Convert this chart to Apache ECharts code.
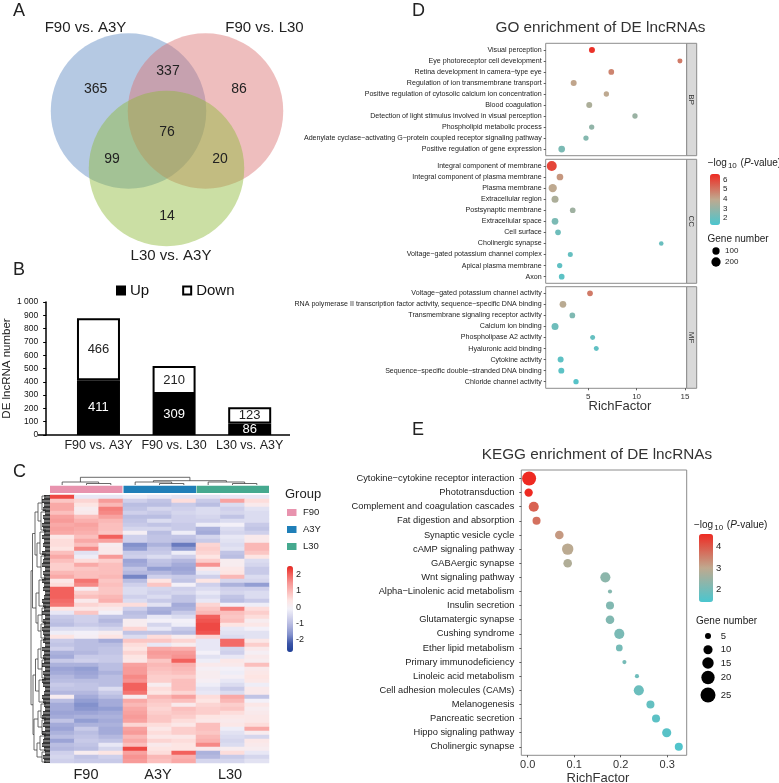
<!DOCTYPE html>
<html>
<head>
<meta charset="utf-8">
<style>
    html, body { margin: 0; padding: 0; background: #fff; }
    #main { width: 779px; height: 783px; }
</style>
<script src="https://cdn.jsdelivr.net/npm/echarts@6/dist/echarts.min.js"></script>
</head>
<body>
<div id="main"></div>
<script>
var FONT = '"Liberation Sans", Arial, sans-serif';

// A: venn
var vennCounts = ['365', '337', '86', '76', '99', '20', '14'];
var vennNames = ['F90 vs. A3Y', 'F90 vs. L30', 'L30 vs. A3Y'];

// B: stacked bars
var barCategories = ['F90 vs. A3Y', 'F90 vs. L30', 'L30 vs. A3Y'];
var barUp = [411, 309, 86];
var barDown = [466, 210, 123];

// C: heatmap, one row per list, columns F90 x3, A3Y x3, L30 x3
var heatGroups = ['F90', 'A3Y', 'L30'];
var heatTicks = [2, 1, 0, -1, -2];
var heatRows = [
    [2.2, -.3, -.3, -.2, -.3, -.4, -.4, -.3, -.3],
    [.8, .6, 1.4, -.7, -.9, .5, -.8, 1.3, .5],
    [1.2, .4, 1.0, -1, -1, -.8, -1, -.5, .2],
    [1.2, .1, 1.7, -.9, -.6, -.7, -.5, -.7, -.4],
    [.9, .2, 1.6, -.7, -.8, -.6, -.5, -.6, -.5],
    [1.3, .9, 1.3, -1, -1, -.7, -.6, -.9, -.5],
    [1.4, 1.1, 1.0, -.9, -.5, -.7, -.7, -.5, -.5],
    [1.2, 1.3, .9, -.8, -.9, -.8, -.2, -.1, -.8],
    [1.3, 1.2, .9, -.6, -.6, -.8, -1.2, -.5, -.9],
    [1.2, 1.1, .8, 0, -1.0, -.2, -1.3, -.6, -.7],
    [.3, .9, 2.0, -.7, -.9, -.9, -.6, -.3, .2],
    [.5, 1.2, 1.3, -.7, -.9, -1.0, -.8, -.4, .2],
    [.5, .9, .1, -1.7, -1.2, -1.9, .6, -.5, 1],
    [.4, 1.6, .2, -1.5, -.9, -1.5, .7, -.4, 1.0],
    [.9, -.4, .2, -.8, -.8, -.2, .6, -.9, .8],
    [1.2, -.2, 1.4, -.7, -.5, -.7, .4, -1, .4],
    [.9, .5, .7, -1.4, -.9, -1.1, .7, .1, -.5],
    [.7, 1.2, .9, -1.3, -1.0, -1.3, 1.5, .1, -.6],
    [.7, .8, .9, -.9, -1.5, -1.4, .2, .3, -.8],
    [1.0, .9, .9, -1.1, -1.1, -1.3, -.3, .4, -.8],
    [1.2, .9, 1.0, -1.8, -.7, -.8, -.7, 1.0, -.5],
    [.3, 1.8, .8, -1, .4, -.9, .4, -.6, -.6],
    [.5, 1.6, .9, -.7, .8, -.1, -.7, -1.2, -1.5],
    [2.0, .1, .8, -.5, -.6, -.7, -.5, -.7, -.7],
    [2.0, .7, .8, -.5, -.7, -.6, -.3, -.6, -.5],
    [2.0, .9, 1.0, -.7, -.5, -.9, -.5, -.9, -.5],
    [1.9, .2, 1.1, -.5, -.8, -.9, -.3, -1.0, -.8],
    [1.8, .6, .5, .5, -.4, -1.3, .6, -.1, -.2],
    [.4, .3, .2, -.7, -1.2, -1.2, .8, 1.7, .5],
    [-.3, .8, -.1, -1, -1.3, -.8, 1.0, .9, .7],
    [-.8, -.7, -.9, -.9, -.3, -.5, 2.0, .8, .5],
    [-.9, -.7, -1.1, .1, -.1, -.1, 2.1, .9, .1],
    [-1, -.8, -.9, .1, -.6, -.2, 2.2, .4, .3],
    [-.5, -.5, -.6, .6, -.3, -.8, 2.2, -.3, -.1],
    [-.2, -.1, .1, -.9, -.9, -1, 2.1, -.4, -.4],
    [.4, 0, .4, -.5, .5, .1, .6, -.5, -.4],
    [-.8, -1, -1.3, .8, .8, .6, -.3, 1.9, .3],
    [-.9, -1, -1, .5, -.3, .1, -.3, 1.9, .7],
    [-.7, -1, -.9, .4, 1.2, 1.1, -.3, -.6, .2],
    [-1.2, -1.1, -.9, .6, 1.4, 1.4, -.1, -.7, 0],
    [-1.3, -.8, -.8, .4, 1.3, 1.5, -.4, -.3, .2],
    [-.8, -.7, -.8, .3, .8, 2.0, -.2, .3, .1],
    [-1.2, -1.2, -1, 1.3, 1.0, 1.1, .2, .2, .9],
    [-1.4, -1.5, -1, 1.4, .9, 1.0, 0, -.1, .2],
    [-1.3, -1.4, -1.2, 1.4, .8, .9, .1, -.2, .3],
    [-1.1, -1.3, -1, 1.6, .7, .7, .1, 0, .4],
    [-1, -1, -1, 1.5, .7, .9, 0, -.3, .3],
    [-.8, -.9, -1, 2.0, .1, .9, -.2, -.5, -.2],
    [-.9, -.9, -.5, 2.0, .5, .9, -.4, -.8, .2],
    [-1.1, -1.1, -.8, 1.8, .4, .6, -.3, -.5, .2],
    [.1, -1.3, -1, .1, 1.0, 1.3, .5, 1.2, -.9],
    [-1, -1.5, -1.3, 1.2, .8, .9, .4, 1.0, -.1],
    [-1.3, -1.7, -1.3, 1, .7, .2, .6, .7, .3],
    [-1.3, -1.6, -1.5, 1.2, .6, .9, .7, .8, .1],
    [-1.4, -1.4, -1.3, 1.3, .7, .8, .7, .5, .2],
    [-1.3, -1.2, -1.2, 1.4, .8, .7, .4, .3, .3],
    [-.9, -1.5, -1.3, 1.3, .8, .5, .3, .2, .3],
    [-1.3, -1.2, -1.2, .6, .5, .3, .9, .3, .5],
    [-1.4, -.8, -1.3, 1.3, .3, .7, .9, -.2, 1.2],
    [-1.2, -1, -1.3, 1.4, .5, .7, .8, -.4, .1],
    [-1.0, -.9, -1.1, 1.0, .3, .3, 1.0, -.5, -.6],
    [-1.4, -.8, -.9, 1.2, .6, .5, 1.1, -.6, .3],
    [-1, -.9, -.3, .9, .2, .4, 1.6, -.5, .2],
    [-1.1, -1, -.6, 2.2, .4, .4, .2, .1, .1],
    [-.7, .1, .4, 1.3, .5, 2.0, -1.2, .5, -.3],
    [-.6, -.9, -.7, 1.5, 1.0, 1.1, -1.1, -.8, -.6],
    [-.7, -.8, -.8, 1.4, .9, 1.2, -.6, -.6, -.4]
];
// dendrograms: [merge height, child, child], a column leaf is its index, a row leaf block is [height, first row, last row]
var colTree = [7.7, [3, 0, [1.5, 1, 2]], [4.3, [3, 3, [1.5, 4, 5]], [3, 6, [1.5, 7, 8]]]];
var rowTree = [19,
    [17.5,
        [15, [12, [8, 0, 4], [9, 4, 9]], [13, [10, 9, 15], [9, 15, 21]]],
        [14, [11, 21, 28], [12, [8, 28, 32], [9, 32, 36]]]],
    [17,
        [14.5, [12, [9, 36, 41], [8, 41, 46]], [11, 46, 52]],
        [16, [12, [9, 52, 56], [8, 56, 60]], [13, [10, 60, 64], [8, 64, 67]]]]
];
var rowLeafHeight = [6, 8, 6, 7, 5, 7, 6, 8, 7, 6, 8, 6, 7, 5, 8, 6, 7, 8, 5, 7, 6, 8, 6, 7, 5, 6, 8, 7, 6, 8, 5, 7, 6,
    8, 7, 6, 7, 5, 8, 6, 7, 6, 8, 5, 7, 6, 8, 7, 5, 6, 8, 7, 6, 5, 7, 8, 6, 7, 5, 8, 6, 7, 8, 6, 5, 7, 6];

// D: GO dots
var goBpTerms = ['Visual perception', 'Eye photoreceptor cell development', 'Retina development in camera\u2212type eye',
    'Regulation of ion transmembrane transport', 'Positive regulation of cytosolic calcium ion concentration',
    'Blood coagulation', 'Detection of light stimulus involved in visual perception', 'Phospholipid metabolic process',
    'Adenylate cyclase\u2212activating G\u2212protein coupled receptor signaling pathway', 'Positive regulation of gene expression'];
var goBpRich = [5.38, 14.48, 7.38, 3.49, 6.87, 5.1, 9.83, 5.35, 4.76, 2.25];
var goBpGenes = [48, 15, 37, 48, 25, 48, 25, 25, 25, 75];
var goBpLogP = [6.4, 4.9, 4.7, 4.0, 3.9, 3.5, 3.1, 2.9, 2.6, 2.4];
var goCcTerms = ['Integral component of membrane', 'Integral component of plasma membrane', 'Plasma membrane',
    'Extracellular region', 'Postsynaptic membrane', 'Extracellular space', 'Cell surface', 'Cholinergic synapse',
    'Voltage\u2212gated potassium channel complex', 'Apical plasma membrane', 'Axon'];
var goCcRich = [1.22, 2.07, 1.32, 1.56, 3.39, 1.56, 1.87, 12.55, 3.14, 2.04, 2.25];
var goCcGenes = [242, 75, 149, 88, 37, 75, 37, 3, 15, 25, 37];
var goCcLogP = [6.0, 4.3, 3.9, 3.5, 3.2, 2.4, 2.1, 2.0, 1.9, 1.8, 1.7];
var goMfTerms = ['Voltage\u2212gated potassium channel activity',
    'RNA polymerase II transcription factor activity, sequence\u2212specific DNA binding',
    'Transmembrane signaling receptor activity', 'Calcium ion binding', 'Phospholipase A2 activity',
    'Hyaluronic acid binding', 'Cytokine activity', 'Sequence\u2212specific double\u2212stranded DNA binding', 'Chloride channel activity'];
var goMfRich = [5.18, 2.38, 3.35, 1.56, 5.45, 5.83, 2.14, 2.21, 3.73];
var goMfGenes = [37, 75, 37, 88, 15, 15, 48, 48, 25];
var goMfLogP = [4.9, 3.8, 2.5, 2.1, 1.9, 1.8, 1.75, 1.7, 1.6];
var goRichTicks = [5, 10, 15];
var goLogTicks = [6, 5, 4, 3, 2];
var goGeneLegend = [100, 200];

// E: KEGG dots
var keggTerms = ['Cytokine\u2212cytokine receptor interaction', 'Phototransduction', 'Complement and coagulation cascades',
    'Fat digestion and absorption', 'Synaptic vesicle cycle', 'cAMP signaling pathway', 'GABAergic synapse',
    'Wnt signaling pathway', 'Alpha\u2212Linolenic acid metabolism', 'Insulin secretion', 'Glutamatergic synapse',
    'Cushing syndrome', 'Ether lipid metabolism', 'Primary immunodeficiency', 'Linoleic acid metabolism',
    'Cell adhesion molecules (CAMs)', 'Melanogenesis', 'Pancreatic secretion', 'Hippo signaling pathway', 'Cholinergic synapse'];
var keggRich = [.003, .002, .013, .019, .068, .086, .086, .167, .177, .177, .177, .197, .197, .208, .235, .239, .264, .276, .299, .325];
var keggGenes = [22, 8.5, 12, 8, 9, 15, 9, 12, 3, 8, 9, 12, 6, 3, 3, 12, 8, 8, 10, 8];
var keggLogP = [4.7, 4.6, 3.9, 3.7, 3.2, 2.95, 2.8, 2.3, 2.2, 2.15, 2.15, 2.05, 2.0, 2.0, 1.9, 1.85, 1.75, 1.65, 1.6, 1.5];
var keggRichTicks = [0, .1, .2, .3];
var keggLogTicks = [4, 3, 2];
var keggGeneLegend = [5, 10, 15, 20, 25];

var DOT_COLORS = ['#4ac6cf', '#bfa98f', '#ee2a22'];
var FRAME = '#8c8c8c';

function goSize(v) { return Math.sqrt(20 + .33 * v); }
function keggSize(v) { return Math.sqrt(Math.max(9, -11 + 9.45 * v)); }

function txt(x, y, text, size, align, color) {
    return {
        type: 'text', x: x, y: y, z: 100, silent: true,
        style: { text: text, fontSize: size, fontFamily: FONT, fill: color || '#222', align: align || 'left', verticalAlign: 'middle' }
    };
}

function rowsToDots(rich, genes, logp) {
    return rich.map(function (r, i) { return [r, i, genes[i], logp[i]]; });
}

function indexes(arr) {
    return arr.map(function (d, i) { return i; });
}

function termAxis(gridIndex, terms, fontSize, margin) {
    return {
        gridIndex: gridIndex, type: 'value', inverse: true, min: -0.6, max: terms.length - 0.4,
        splitLine: { show: false }, axisLine: { show: false, onZero: false },
        axisTick: { show: true, length: 2, customValues: indexes(terms), lineStyle: { color: '#333', width: .8 } },
        axisLabel: {
            customValues: indexes(terms), fontSize: fontSize, color: '#222', margin: margin, fontFamily: FONT,
            formatter: function (v) { return terms[v]; }
        }
    };
}

function richAxis(gridIndex, min, max, ticks, fontSize, digits) {
    var showIt = ticks.length > 0;
    return {
        gridIndex: gridIndex, type: 'value', min: min, max: max,
        splitLine: { show: false }, axisLine: { show: false, onZero: false },
        axisTick: { show: showIt, length: 2, customValues: ticks, lineStyle: { color: '#333', width: .8 } },
        axisLabel: {
            show: showIt, customValues: ticks, fontSize: fontSize, color: '#333', margin: 4, fontFamily: FONT,
            formatter: function (v) { return v.toFixed(digits); }
        }
    };
}

function dotSeries(index, dots, sizeFn) {
    return {
        type: 'scatter', xAxisIndex: index, yAxisIndex: index, data: dots, symbolSize: function (v) { return sizeFn(v[2]); },
        itemStyle: { opacity: 1 }, silent: true
    };
}

// dendrogram line segments in page pixels
var segs = [];
var leafSegs = [];
var HEAT_LEFT = 50, HEAT_TOP = 495, HEAT_W = 219, HEAT_H = 268;
var ROW_H = HEAT_H / heatRows.length, COL_W = HEAT_W / 9;

function walkCol(node) {
    if (typeof node === 'number') {
        return { x: HEAT_LEFT + COL_W * (node + .5), h: 0 };
    }
    var a = walkCol(node[1]), b = walkCol(node[2]);
    var top = 485 - node[0];
    segs.push([a.x, top, b.x, top], [a.x, top, a.x, 485 - a.h], [b.x, top, b.x, 485 - b.h]);
    return { x: (a.x + b.x) / 2, h: node[0] };
}

function walkRow(node) {
    var x = HEAT_LEFT - node[0];
    if (typeof node[1] === 'number') {
        var y0 = HEAT_TOP + node[1] * ROW_H + 1, y1 = HEAT_TOP + node[2] * ROW_H - 1;
        segs.push([x, y0, x, y1], [x, y0, HEAT_LEFT - 4, y0], [x, y1, HEAT_LEFT - 4, y1]);
        return { y: (y0 + y1) / 2, d: node[0] };
    }
    var a = walkRow(node[1]), b = walkRow(node[2]);
    segs.push([x, a.y, x, b.y], [x, a.y, HEAT_LEFT - a.d, a.y], [x, b.y, HEAT_LEFT - b.d, b.y]);
    return { y: (a.y + b.y) / 2, d: node[0] };
}

walkCol(colTree);
walkRow(rowTree);
rowLeafHeight.forEach(function (h, i) {
    for (var j = 0; j < 3; j++) {
        var y = HEAT_TOP + (i + (j + .5) / 3) * ROW_H;
        leafSegs.push([HEAT_LEFT - h, y, HEAT_LEFT, y]);
    }
});

function segRenderer(stroke, width) {
    return function (params, api) {
        var a = api.coord([api.value(0), api.value(1)]);
        var b = api.coord([api.value(2), api.value(3)]);
        return {
            type: 'line', shape: { x1: a[0], y1: a[1], x2: b[0], y2: b[1] },
            style: { stroke: stroke, lineWidth: width }
        };
    };
}

var heatData = [];
heatRows.forEach(function (row, r) {
    row.forEach(function (v, c) { heatData.push([c, r, v]); });
});

// static text and boxes
var elements = [
    txt(13, 11, 'A', 18), txt(13, 270, 'B', 18), txt(13, 472, 'C', 18), txt(412, 11, 'D', 18), txt(412, 430, 'E', 18),
    txt(85.5, 28, vennNames[0], 15, 'center'), txt(264.5, 28, vennNames[1], 15, 'center'), txt(171, 256, vennNames[2], 15, 'center'),
    { type: 'line', z: 100, silent: true, shape: { x1: 38, y1: 435, x2: 290, y2: 435 }, style: { stroke: '#000', lineWidth: 1.5 } },
    txt(600.5, 28, 'GO enrichment of DE lncRNAs', 15.3, 'center', '#333'),
    txt(597, 455, 'KEGG enrichment of DE lncRNAs', 15.3, 'center', '#333'),
    txt(620, 406, 'RichFactor', 13, 'center', '#333'),
    txt(598, 778, 'RichFactor', 13, 'center', '#333'),
    txt(285, 494, 'Group', 13),
    txt(707.5, 239, 'Gene number', 10), txt(696, 621.5, 'Gene number', 10)
];

[[694, 525], [707.7, 163]].forEach(function (p) {
    elements.push({
        type: 'text', x: p[0], y: p[1], z: 100, silent: true,
        style: {
            text: '{a|\u2212log}{s|10}{a| (}{i|P}{a|-value)}', fontFamily: FONT, verticalAlign: 'middle', fill: '#222',
            rich: {
                a: { fontSize: 10, fontFamily: FONT, fill: '#222' },
                i: { fontSize: 10, fontFamily: FONT, fontStyle: 'italic', fill: '#222' },
                s: { fontSize: 8, fontFamily: FONT, fill: '#222', padding: [5, 1, 0, 1] }
            }
        }
    });
});

var vennAt = [[95.7, 89], [168, 71], [239, 89], [167, 132], [112, 159], [220, 159], [167, 216]];
vennCounts.forEach(function (c, i) {
    elements.push(txt(vennAt[i][0], vennAt[i][1], c, 14, 'center'));
});

// annotation bar above the heatmap and the group legend
var groupColors = ['#e893ae', '#1f7fb8', '#45a98f'];
heatGroups.forEach(function (g, i) {
    elements.push({
        type: 'rect', silent: true,
        shape: { x: HEAT_LEFT + 73 * i + (i ? .5 : 0), y: 485.7, width: 72.5, height: 7.3 },
        style: { fill: groupColors[i] }
    });
    elements.push({
        type: 'rect', silent: true, shape: { x: 287, y: 509 + 17 * i, width: 9.5, height: 7 }, style: { fill: groupColors[i] }
    });
    elements.push(txt(303, 512.5 + 17 * i, g, 9.5));
    elements.push(txt(HEAT_LEFT + 36 + 72 * i, 775, g, 14.5, 'center'));
});

heatTicks.forEach(function (t) {
    elements.push(txt(296, 607.3 - t * 16.3, String(t), 9));
});
goLogTicks.forEach(function (t) {
    elements.push(txt(723, 198.7 - (t - 4) * 9.7, String(t), 8));
});
keggLogTicks.forEach(function (t) {
    elements.push(txt(716, 568 - (t - 3) * 21.2, String(t), 9.5));
});

var stripBoxes = [[43.3, 155.7, 'BP'], [159.3, 283.3, 'CC'], [286.7, 388.3, 'MF']];
stripBoxes.forEach(function (b) {
    elements.push({
        type: 'rect', silent: true, shape: { x: 686.7, y: b[0], width: 10, height: b[1] - b[0] },
        style: { fill: '#d9d9d9', stroke: FRAME, lineWidth: 1 }
    });
    elements.push({
        type: 'text', x: 691.7, y: (b[0] + b[1]) / 2, z: 100, rotation: -Math.PI / 2, silent: true,
        style: { text: b[2], fontSize: 8, fontFamily: FONT, fill: '#333', align: 'center', verticalAlign: 'middle' }
    });
});

// size legends sit on the page-pixel grid
var goLegendAt = [251, 262];
var keggLegendAt = [636, 649.7, 663, 677.5, 695];
goGeneLegend.forEach(function (g, i) {
    elements.push(txt(725, goLegendAt[i], String(g), 8));
});
keggGeneLegend.forEach(function (g, i) {
    elements.push(txt(720.7, keggLegendAt[i], String(g), 9.5));
});

function plotGrid(left, top, width, height) {
    return { left: left, top: top, width: width, height: height, show: true, borderColor: FRAME, borderWidth: 1, backgroundColor: '#fff' };
}

function hiddenAxis(grid, min, max, inverse) {
    return { gridIndex: grid, type: 'value', min: min, max: max, inverse: !!inverse, show: false };
}

var option = {
    animation: false,
    textStyle: { fontFamily: FONT },
    legend: {
        data: ['Up', 'Down'], left: 116, top: 283, padding: 0, itemWidth: 8, itemHeight: 8, itemGap: 33, icon: 'rect',
        selectedMode: false, textStyle: { fontSize: 15, color: '#111', fontFamily: FONT }
    },
    grid: [
        { left: 0, top: 0, width: 779, height: 783 },
        { left: 56.5, top: 302, width: 231, height: 133 },
        { left: HEAT_LEFT, top: HEAT_TOP, width: HEAT_W, height: HEAT_H },
        plotGrid(545.7, 43.3, 141, 112.4),
        plotGrid(545.7, 159.3, 141, 124),
        plotGrid(545.7, 286.7, 141, 101.6),
        plotGrid(521.3, 470, 165.4, 285.3)
    ],
    xAxis: [
        hiddenAxis(0, 0, 779),
        {
            gridIndex: 1, type: 'category', data: barCategories,
            axisLine: { show: false }, axisTick: { show: false },
            axisLabel: { fontSize: 12.5, color: '#222', margin: 4, fontFamily: FONT, interval: 0 }
        },
        { gridIndex: 2, type: 'category', data: indexes(heatRows[0]), show: false },
        richAxis(3, .595, 15.18, [], 8, 0),
        richAxis(4, .595, 15.18, [], 8, 0),
        richAxis(5, .595, 15.18, goRichTicks, 8, 0),
        richAxis(6, -.0138, .342, keggRichTicks, 11, 1)
    ],
    yAxis: [
        hiddenAxis(0, 0, 783, true),
        {
            gridIndex: 1, type: 'value', min: 0, max: 1000, interval: 100, offset: 14.5,
            name: 'DE lncRNA number', nameLocation: 'middle', nameGap: 32,
            nameTextStyle: { fontSize: 11.5, color: '#222', fontFamily: FONT },
            splitLine: { show: false },
            axisLine: { show: true, lineStyle: { color: '#000', width: 1.5 } },
            axisTick: { show: true, length: 3, lineStyle: { color: '#000', width: 1 } },
            axisLabel: {
                fontSize: 8.5, color: '#111', margin: 8, fontFamily: FONT,
                formatter: function (v) { return v === 1000 ? '1 000' : String(v); }
            }
        },
        { gridIndex: 2, type: 'category', data: indexes(heatRows), inverse: true, show: false },
        termAxis(3, goBpTerms, 7.1, 4),
        termAxis(4, goCcTerms, 7.1, 4),
        termAxis(5, goMfTerms, 7.1, 4),
        termAxis(6, keggTerms, 9.3, 7)
    ],
    visualMap: [
        {
            type: 'continuous', seriesIndex: 3, dimension: 2, min: -2.76, max: 2.5, left: 287, top: 566, padding: 0,
            itemWidth: 6, itemHeight: 86, calculable: false, hoverLink: false, text: null,
            inRange: { color: ['#1f3f98', '#3d56a8', '#8290cc', '#aeb3dd', '#d2d3ec', '#f2f1f9', '#fde5e3', '#fbbdbb', '#f79896', '#f26460', '#e8251f'] }
        },
        {
            type: 'continuous', seriesIndex: [5, 6, 7], dimension: 3, min: 1.3, max: 6.55, left: 710, top: 174, padding: 0,
            itemWidth: 10, itemHeight: 51, calculable: false, hoverLink: false, text: null, inRange: { color: DOT_COLORS }
        },
        {
            type: 'continuous', seriesIndex: 8, dimension: 3, min: 1.4, max: 4.6, left: 699, top: 534, padding: 0,
            itemWidth: 14, itemHeight: 68, calculable: false, hoverLink: false, text: null, inRange: { color: DOT_COLORS }
        }
    ],
    graphic: { elements: elements },
    series: [
        // venn circles, drawn blue, pink, green so the overlaps mix
        {
            type: 'scatter', xAxisIndex: 0, yAxisIndex: 0, symbolSize: 155.5, silent: true,
            data: [
                { value: [128.5, 111], itemStyle: { color: 'rgba(93,137,193,.46)', opacity: 1 } },
                { value: [205.5, 111], itemStyle: { color: 'rgba(217,113,113,.46)', opacity: 1 } },
                { value: [166.5, 168.5], itemStyle: { color: 'rgba(141,185,57,.46)', opacity: 1 } }
            ]
        },
        {
            name: 'Up', type: 'bar', xAxisIndex: 1, yAxisIndex: 1, stack: 'de', barWidth: 43, data: barUp, silent: true,
            itemStyle: { color: '#000', borderColor: '#000', borderWidth: 2 },
            label: { show: true, position: 'inside', color: '#fff', fontSize: 13, fontFamily: FONT }
        },
        {
            name: 'Down', type: 'bar', xAxisIndex: 1, yAxisIndex: 1, stack: 'de', barWidth: 43, data: barDown, silent: true,
            itemStyle: { color: '#fff', borderColor: '#000', borderWidth: 2 },
            label: { show: true, position: 'inside', color: '#222', fontSize: 13, fontFamily: FONT }
        },
        { type: 'heatmap', xAxisIndex: 2, yAxisIndex: 2, data: heatData, progressive: 0, silent: true },
        {
            type: 'custom', xAxisIndex: 0, yAxisIndex: 0, data: segs, silent: true, clip: false,
            renderItem: segRenderer('#444', .8)
        },
        dotSeries(3, rowsToDots(goBpRich, goBpGenes, goBpLogP), goSize),
        dotSeries(4, rowsToDots(goCcRich, goCcGenes, goCcLogP), goSize),
        dotSeries(5, rowsToDots(goMfRich, goMfGenes, goMfLogP), goSize),
        dotSeries(6, rowsToDots(keggRich, keggGenes, keggLogP), keggSize),
        {
            type: 'scatter', xAxisIndex: 0, yAxisIndex: 0, silent: true, itemStyle: { color: '#000', opacity: 1 },
            symbolSize: function (v) { return goSize(v[2]); },
            data: goGeneLegend.map(function (g, i) { return [716, goLegendAt[i], g]; })
        },
        {
            type: 'scatter', xAxisIndex: 0, yAxisIndex: 0, silent: true, itemStyle: { color: '#000', opacity: 1 },
            symbolSize: function (v) { return keggSize(v[2]); },
            data: keggGeneLegend.map(function (g, i) { return [708, keggLegendAt[i], g]; })
        },
        {
            type: 'custom', xAxisIndex: 0, yAxisIndex: 0, data: leafSegs, silent: true, clip: false,
            renderItem: segRenderer('#111', 1)
        }
    ]
};

var chart = echarts.init(document.getElementById('main'));
chart.setOption(option);
</script>
</body>
</html>
